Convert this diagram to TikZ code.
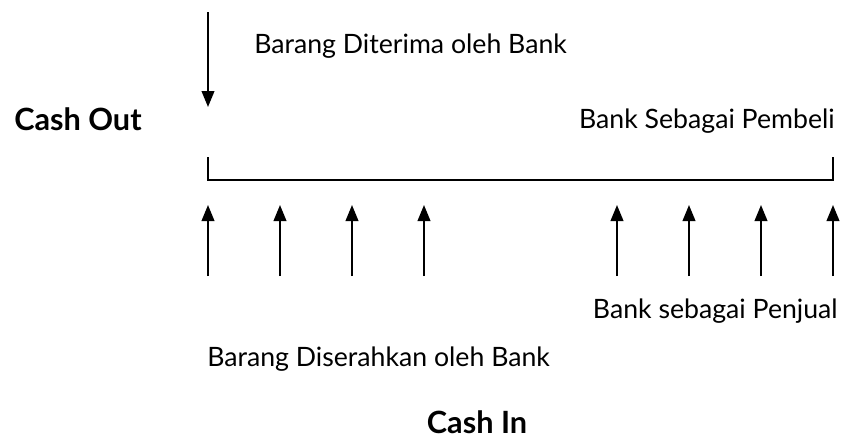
\documentclass[tikz,border=0pt]{standalone}
\usepackage{fontspec}
\setmainfont{Lato}
\usetikzlibrary{arrows.meta, positioning}

\begin{document}
\begin{tikzpicture}[
    x=0.75pt, y=-0.75pt,
    lbl/.style={inner sep=0pt, font=\fontsize{20}{22}\selectfont},
    title/.style={inner sep=0pt, font=\fontsize{23}{26}\selectfont\bfseries},
    arrow/.style={-{Triangle[length=12pt, width=9.5pt]}, line width=1.4pt},
    bracket/.style={line width=0.9pt}
]
    \useasboundingbox (0,0) rectangle (843,440);

    % goods received, cash going out
    \coordinate (out-start) at (208,12);
    \coordinate (out-end) at (208,107);
    \draw[arrow] (out-start) -- (out-end);
    \node[lbl, anchor=base west] (received) at (254,53) {Barang Diterima oleh Bank};
    \node[title, anchor=base west] (cashout) at (14,130) {Cash Out};
    \node[lbl, anchor=base east] (buyer) at (835,128) {Bank Sebagai Pembeli};

    % bracket over the whole period
    \coordinate (br-l) at (208,157);
    \coordinate (br-r) at (833,157);
    \draw[bracket] (br-l) -- ++(0,23) -| (br-r);

    % instalments, cash coming in
    \foreach \x [count=\i] in {208,280,352,424,617,689,761,833} {
        \coordinate (in\i-start) at (\x,276);
        \coordinate (in\i-end) at (\x,205);
        \draw[arrow] (in\i-start) -- (in\i-end);
    }
    \node[lbl, anchor=base east] (seller) at (838,318) {Bank sebagai Penjual};
    \node[lbl, anchor=base west] (delivered) at (207,366) {Barang Diserahkan oleh Bank};
    \node[title, anchor=base] (cashin) at (477,433) {Cash In};
\end{tikzpicture}
\end{document}
